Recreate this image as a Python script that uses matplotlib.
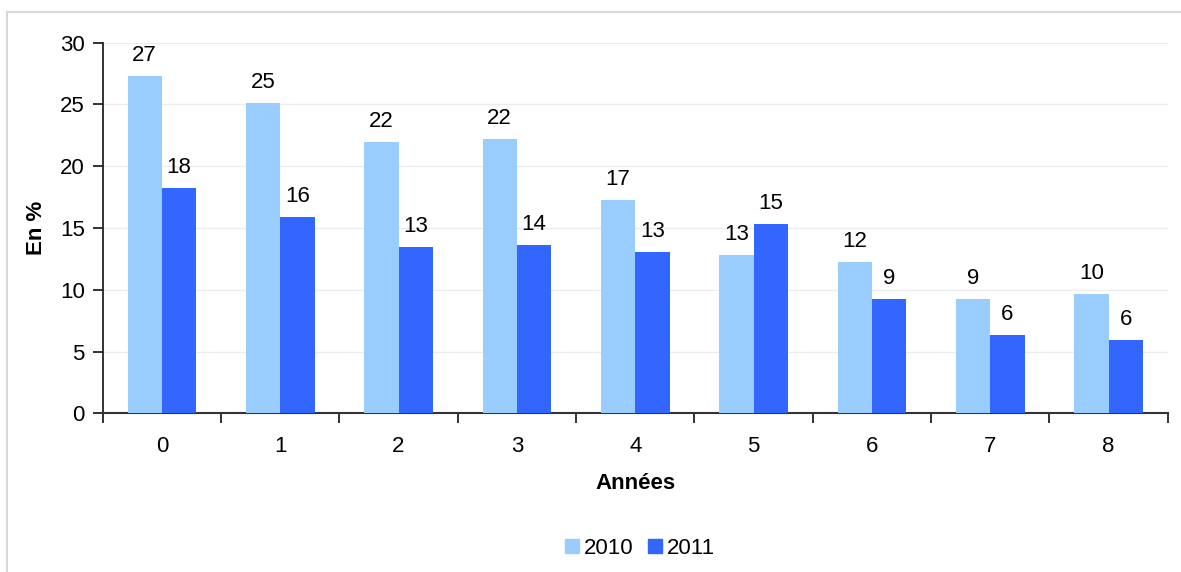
import matplotlib
matplotlib.use("Agg")
import matplotlib.pyplot as plt
import numpy as np
from matplotlib.lines import Line2D

categories = ["0", "1", "2", "3", "4", "5", "6", "7", "8"]
values_2010 = [27.27, 25.12, 21.94, 22.2, 17.27, 12.79, 12.23, 9.28, 9.69]
values_2011 = [18.27, 15.92, 13.49, 13.63, 13.09, 15.33, 9.28, 6.34, 5.91]
series_names = ["2010", "2011"]
colors = ["#99CCFF", "#3366FF"]
y_ticks = [0, 5, 10, 15, 20, 25, 30]

plt.rcParams['font.family'] = ['Liberation Sans', 'DejaVu Sans']
FS = 16

W, H = 1181, 572
fig = plt.figure(figsize=(W / 100, H / 100), dpi=100)
ax = fig.add_axes([102.7 / W, 1 - 413.3 / H, (1167.7 - 102.7) / W, (413.3 - 42.7) / H])

x = np.arange(len(categories))
bw = 0.29
b1 = ax.bar(x - bw / 2, values_2010, bw, color=colors[0], label=series_names[0], zorder=3)
b2 = ax.bar(x + bw / 2, values_2011, bw, color=colors[1], label=series_names[1], zorder=3)

for bars, vals in ((b1, values_2010), (b2, values_2011)):
    for rect, v in zip(bars, vals):
        ax.annotate(f"{int(round(v))}", (rect.get_x() + rect.get_width() / 2, v),
                    xytext=(0, 10.8), textcoords="offset points",
                    ha="center", va="baseline", fontsize=FS, color="black")

ax.set_xlim(-0.5, len(categories) - 0.5)
ax.set_ylim(0, 30)
ax.set_yticks(y_ticks)
ax.set_yticklabels([str(t) for t in y_ticks], fontsize=FS)
ax.yaxis.grid(True, color="#ececec", linewidth=1, zorder=0)
ax.set_axisbelow(True)

# x ticks at category boundaries, labels at centers
ax.set_xticks(np.arange(len(categories) + 1) - 0.5)
ax.set_xticklabels([])
ax.set_xticks(x, minor=True)
ax.set_xticklabels(categories, minor=True, fontsize=FS)
ax.tick_params(axis="x", which="major", direction="out", length=7, width=1.3, color="#222222")
ax.tick_params(axis="x", which="minor", length=0, pad=16)
ax.tick_params(axis="y", direction="out", length=7, width=1.3, color="#222222", pad=6)

for s in ["top", "right"]:
    ax.spines[s].set_visible(False)
ax.spines["left"].set_color("#222222")
ax.spines["left"].set_linewidth(1.3)
ax.spines["bottom"].set_color("#333333")
ax.spines["bottom"].set_linewidth(1.5)

ax.set_xlabel("Années", fontsize=FS, fontweight="bold", labelpad=12)
ax.set_ylabel("En %", fontsize=FS, fontweight="bold", labelpad=9)

handles = [Line2D([0], [0], marker="s", linestyle="none", markersize=9.5,
                  markerfacecolor=c, markeredgecolor=c) for c in colors]
fig.legend(handles, series_names, loc="center", bbox_to_anchor=(638.5 / W, 1 - 548 / H),
           ncol=2, frameon=False, fontsize=FS, handletextpad=0.1, columnspacing=0.5,
           handlelength=0.9)

# light frame (top and left edges visible)
fig.add_artist(Line2D([7 / W, 7 / W], [0, 1 - 11.5 / H], transform=fig.transFigure,
                      color="#dcd8d2", linewidth=1.5))
fig.add_artist(Line2D([7 / W, 1], [1 - 11.5 / H, 1 - 11.5 / H], transform=fig.transFigure,
                      color="#dcd8d2", linewidth=1.5))

fig.savefig("out.png", dpi=100)
